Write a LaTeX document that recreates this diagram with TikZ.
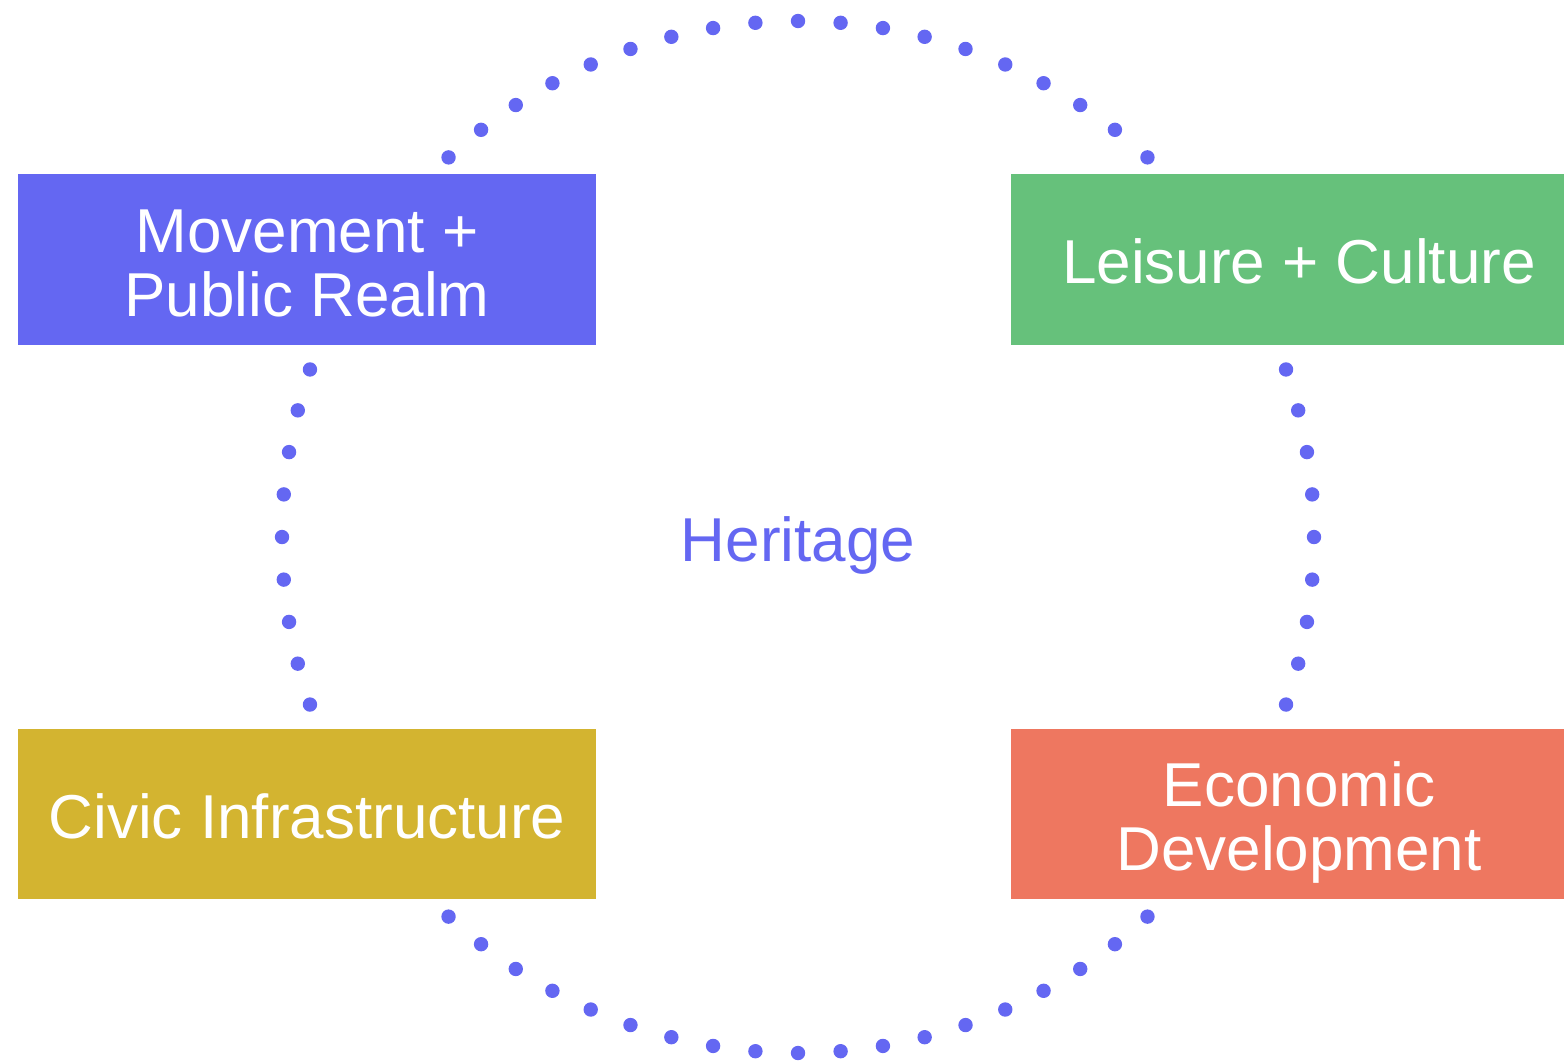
\documentclass[tikz,border=0pt]{standalone}
\usepackage{fontspec}
\setmainfont{Liberation Sans}
\definecolor{cblue}{HTML}{6467F2}
\definecolor{cgreen}{HTML}{66C17B}
\definecolor{cyellow}{HTML}{D3B430}
\definecolor{ccoral}{HTML}{EE7760}
\tikzset{
  box/.style={draw=none, inner sep=0pt, outer sep=0pt},
  lbl/.style={text=white, font=\fontsize{62}{64}\selectfont, align=center, inner sep=0pt, anchor=base},
  dot/.style={fill=cblue, draw=none}
}
\begin{document}
\begin{tikzpicture}[x=1pt, y=-1pt]
\useasboundingbox (0,0) rectangle (1564,1061);
% dotted ring
\foreach \k in {0,...,75} {
  \pgfmathsetmacro{\ang}{90+\k*4.7368421}
  \fill[dot] ({798+516*cos(\ang)}, {537-516*sin(\ang)}) circle (7.2);
}
% boxes
\fill[cblue] (18,174) rectangle (596,345);
\fill[cgreen] (1011,174) rectangle (1564,345);
\fill[cyellow] (18,729) rectangle (596,899);
\fill[ccoral] (1011,729) rectangle (1564,899);
\node[box] (b1) at (307,259.5) {};
\node[box] (b2) at (1287,259.5) {};
\node[box] (b3) at (307,814) {};
\node[box] (b4) at (1287,814) {};
% labels
\node[lbl] (t1) at (307,316) {Movement +\\Public Realm};
\node[lbl] (t2) at (1299,283) {Leisure + Culture};
\node[lbl] (t3) at (307,838) {Civic Infrastructure};
\node[lbl] (t4) at (1299,870) {Economic\\Development};
\node[lbl, text=cblue] (h) at (798,561) {Heritage};
\end{tikzpicture}
\end{document}
